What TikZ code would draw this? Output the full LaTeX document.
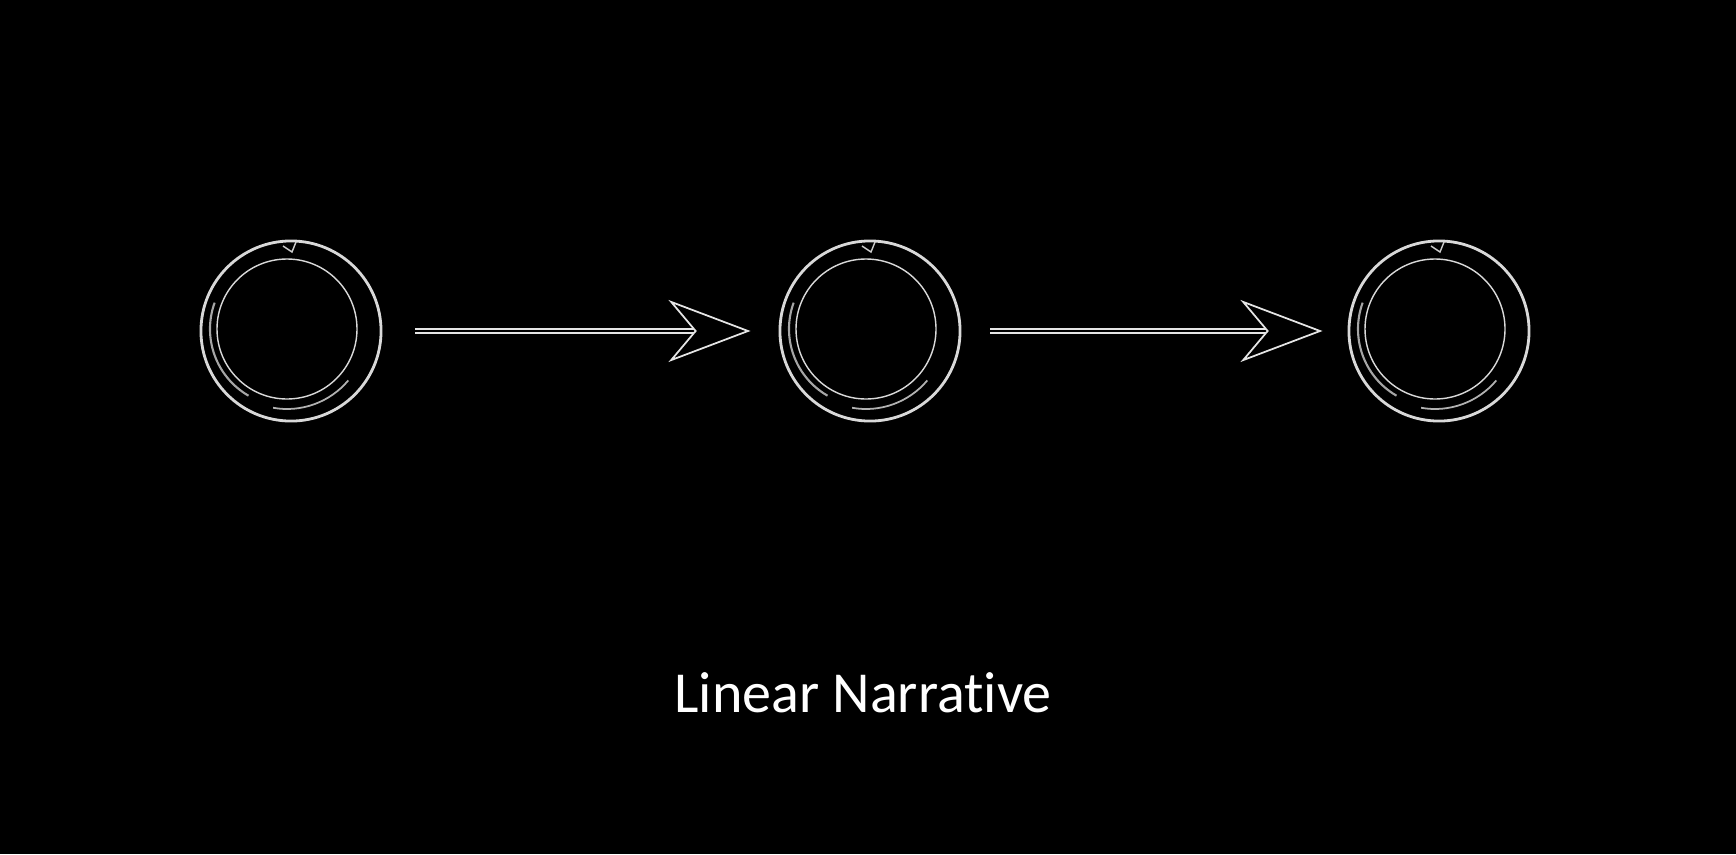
\documentclass[tikz,border=0pt]{standalone}
\usepackage{fontspec}
\setmainfont{Carlito}[Ligatures=NoCommon]
\usetikzlibrary{arrows.meta}

\tikzset{
  ring/.style={circle,draw=white!85!black,line width=.8pt,minimum size=1.8cm,inner sep=0pt},
  link/.style={draw=white!90!black,line width=.5pt,double=black,double distance=.8pt,
    -{Stealth[length=.82cm,width=.62cm,inset=.26cm,fill=black]},shorten <=.33cm,shorten >=.28cm},
}

\begin{document}
\begin{tikzpicture}[x=.01cm,y=-.01cm]
    \fill[black] (0,0) rectangle (1736,854);
    \useasboundingbox (0,0) rectangle (1736,854);
    \foreach \n/\x in {1/291,2/870,3/1439} {
      \node[ring] (n\n) at (\x,331) {};
      \draw[white!85!black,line width=.4pt] (\x-4,329) circle (70);
      \draw[gray!70,line width=.6pt] (\x-4,329) ++(200:77) arc (200:120:77);
      \draw[gray!60,line width=.5pt] (\x-4,329) ++(100:80) arc (100:40:80);
      \draw[white!80!black,line width=.4pt] (\x-8,246) -- (\x+1,252) -- (\x+5,242);
    }
    \draw[link] (n1) -- (n2);
    \draw[link,shorten <=.29cm,shorten >=.25cm] (n2) -- (n3);
    \node[text=white,font=\fontsize{16.5}{20}\selectfont,anchor=base] (title) at (863,712) {Linear Narrative};
  \end{tikzpicture}
\end{document}
